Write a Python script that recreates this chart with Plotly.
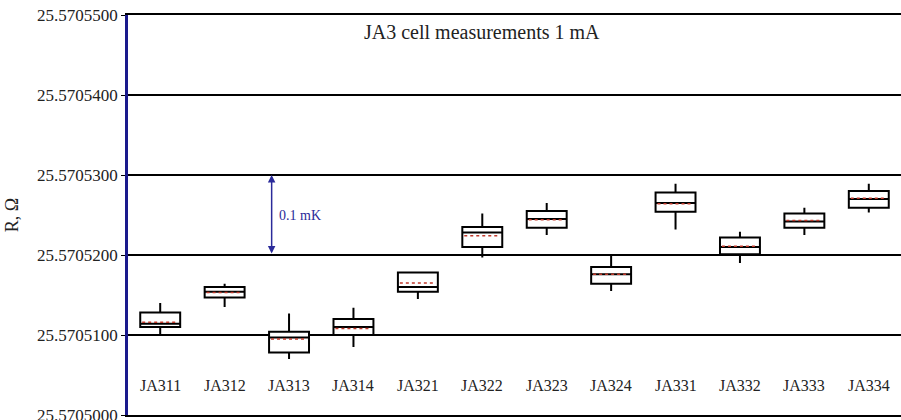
import plotly.graph_objects as go

cells = ["JA311", "JA312", "JA313", "JA314", "JA321", "JA322",
         "JA323", "JA324", "JA331", "JA332", "JA333", "JA334"]
lower = [25.5705101, 25.5705135, 25.5705070, 25.5705085, 25.5705145, 25.5705197,
         25.5705225, 25.5705155, 25.5705232, 25.5705190, 25.5705225, 25.5705253]
q1 = [25.5705110, 25.5705147, 25.5705078, 25.5705100, 25.5705154, 25.5705210,
      25.5705234, 25.5705164, 25.5705254, 25.5705201, 25.5705234, 25.5705259]
median = [25.5705114, 25.5705154, 25.5705097, 25.5705110, 25.5705160, 25.5705228,
          25.5705245, 25.5705176, 25.5705265, 25.5705210, 25.5705242, 25.5705270]
q3 = [25.5705128, 25.5705160, 25.5705104, 25.5705120, 25.5705178, 25.5705235,
      25.5705255, 25.5705185, 25.5705278, 25.5705222, 25.5705252, 25.5705280]
upper = [25.5705140, 25.5705164, 25.5705127, 25.5705134, 25.5705179, 25.5705252,
         25.5705265, 25.5705199, 25.5705289, 25.5705229, 25.5705259, 25.5705289]
mean = [25.5705116, 25.5705153, 25.5705095, 25.5705108, 25.5705165, 25.5705224,
        25.5705244, 25.5705176, 25.5705264, 25.5705211, 25.5705243, 25.5705271]
y_ticks = [25.57050, 25.57051, 25.57052, 25.57053, 25.57054, 25.57055]
y_range = [25.57050, 25.57055]
label_y = 25.57050375
title_text = "JA3 cell measurements 1 mA"
span_low, span_high = 25.57052, 25.57053
span_text = "0.1 mK"
span_x = 1.73

BOX_W = 0.62
xs = list(range(len(cells)))

fig = go.Figure()
fig.add_trace(go.Box(
    x=xs, q1=q1, median=median, q3=q3, lowerfence=lower, upperfence=upper,
    width=BOX_W, whiskerwidth=0, boxpoints=False,
    fillcolor="white", line=dict(color="black", width=2),
    showlegend=False, hoverinfo="skip"))

mx, my = [], []
for i, m in zip(xs, mean):
    mx += [i - BOX_W / 2 + 0.03, i + BOX_W / 2 - 0.03, None]
    my += [m, m, None]
fig.add_trace(go.Scatter(x=mx, y=my, mode="lines",
                         line=dict(color="#c0392b", width=1.5, dash="dot"),
                         showlegend=False, hoverinfo="skip"))

serif = "Liberation Serif, Times New Roman, serif"
annotations = []
for i, c in zip(xs, cells):
    annotations.append(dict(x=i, y=label_y, xref="x", yref="y", text=c,
                            showarrow=False, font=dict(family=serif, size=16, color="#222")))
annotations.append(dict(x=5.0, y=25.5705479, xref="x", yref="y", text=title_text,
                        showarrow=False, font=dict(family=serif, size=20, color="#222")))
# double-headed arrow
annotations.append(dict(x=span_x, y=span_high, ax=span_x, ay=span_low,
                        xref="x", yref="y", axref="x", ayref="y", text="",
                        showarrow=True, arrowhead=2, arrowsize=1, arrowwidth=1.5,
                        arrowcolor="#2b2b9a", startarrowhead=2, arrowside="end+start",
                        startstandoff=0, standoff=0))
annotations.append(dict(x=span_x + 0.08, y=(span_low + span_high) / 2, xref="x", yref="y",
                        text=span_text, showarrow=False, xanchor="left",
                        font=dict(family=serif, size=14, color="#2b2b9a")))
# bottom tick label (partly clipped by the page edge, as in the original)
annotations.append(dict(x=0, xref="paper", xanchor="right", xshift=-8,
                        y=y_ticks[0], yref="y", yanchor="middle",
                        text=f"{y_ticks[0]:.7f}", showarrow=False,
                        font=dict(family=serif, size=17, color="#222")))

fig.update_layout(
    width=901, height=420,
    margin=dict(l=128, r=0, t=15, b=5, autoexpand=False),
    paper_bgcolor="white", plot_bgcolor="white",
    annotations=annotations,
    xaxis=dict(range=[-0.5, len(cells) - 0.5], showticklabels=False, showgrid=False,
               zeroline=False, showline=True, mirror=True, linecolor="black",
               linewidth=1.5, ticks="", automargin=False),
    yaxis=dict(range=y_range, tickvals=y_ticks, tickformat=".7f", automargin=False,
               showgrid=True, gridcolor="black", gridwidth=1.5,
               zeroline=False, showline=True, linecolor="#1a1a8c", linewidth=2.5,
               ticks="outside", ticklen=4, tickcolor="black",
               tickfont=dict(family=serif, size=17, color="#222"),
               title=dict(text="R, Ω", font=dict(family=serif, size=18, color="#222"),
                          standoff=14)),
)

fig.write_html("out.html", config={"displayModeBar": False},
               post_script="document.body.style.margin='0';document.body.style.padding='0';")
